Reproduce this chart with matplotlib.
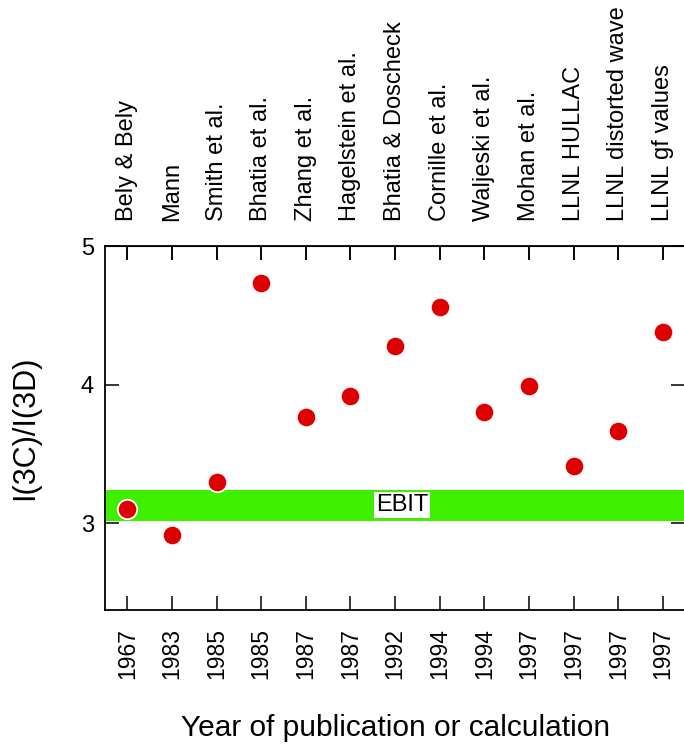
import matplotlib
matplotlib.use("Agg")
import matplotlib.pyplot as plt

plt.rcParams['font.family'] = ['Liberation Sans', 'DejaVu Sans']

authors = ["Bely & Bely", "Mann", "Smith et al.", "Bhatia et al.", "Zhang et al.",
           "Hagelstein et al.", "Bhatia & Doscheck", "Cornille et al.", "Waljeski et al.",
           "Mohan et al.", "LLNL HULLAC", "LLNL distorted wave", "LLNL gf values"]
years = ["1967", "1983", "1985", "1985", "1987", "1987", "1992", "1994", "1994",
         "1997", "1997", "1997", "1997"]
ratio = [3.105, 2.913, 3.30, 4.73, 3.77, 3.92, 4.276, 4.557, 3.80, 3.99, 3.415, 3.665, 4.377]

ebit_low, ebit_high = 3.02, 3.24

fig = plt.figure(figsize=(6.84, 7.45), dpi=100)
ax = fig.add_axes([105 / 684, 135 / 745, 580.2 / 684, 364 / 745])

xs = list(range(len(ratio)))
ax.axhspan(ebit_low, ebit_high, color='#3ef000', lw=0, zorder=1)
ax.text(6.15, (ebit_low + ebit_high) / 2, "EBIT", fontsize=17, ha='center', va='center',
        bbox=dict(facecolor='white', edgecolor='none', pad=1.5), zorder=2)
ax.scatter(xs, ratio, s=14 ** 2, color='#dd0000', edgecolors='white', linewidths=1.3, zorder=3)

ax.set_xlim(-0.5, 12.5)
ax.set_ylim(2.375, 5)
ax.set_xticks(xs)
ax.set_xticklabels(years, rotation=90, fontsize=16.5)
ax.set_yticks([3, 4, 5])
ax.set_yticklabels(["3", "4", "5"], fontsize=17)
ax.tick_params(axis='both', direction='in', length=10, width=1.1, top=True, right=True)
ax.tick_params(axis='x', pad=13)
ax.tick_params(axis='y', pad=8)

top = ax.secondary_xaxis('top')
top.set_xticks(xs)
top.set_xticklabels(authors, rotation=90, fontsize=17)
top.tick_params(direction='in', length=10, width=1.1, pad=18)

for sp in ax.spines.values():
    sp.set_linewidth(1.3)

ax.set_xlabel("Year of publication or calculation", fontsize=21.5, labelpad=25)
ax.set_ylabel("I(3C)/I(3D)", fontsize=22, labelpad=29)

fig.savefig("out.png", dpi=100)
